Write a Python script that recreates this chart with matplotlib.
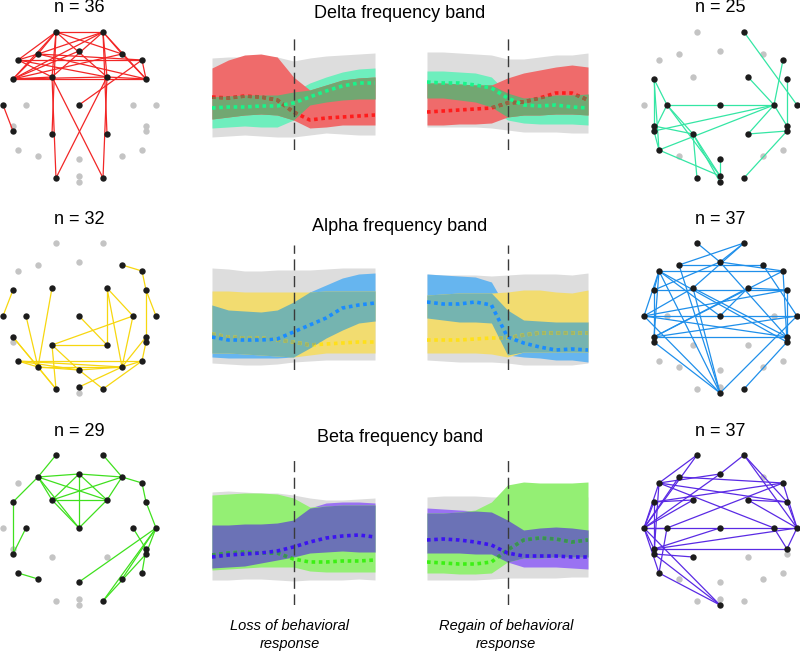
import numpy as np
import matplotlib
matplotlib.use("Agg")
import matplotlib.pyplot as plt
from matplotlib.path import Path

plt.rcParams['font.family'] = ['Liberation Sans', 'DejaVu Sans']

W, H = 800, 654

# electrode layout (x right, y up), head radius ~77
electrodes = {
    'Fp1': (-23, 73), 'Fp2': (24, 73),
    'AF3': (-41, 51), 'Fz': (0, 54), 'AF4': (43, 51),
    'F7': (-61, 45), 'F8': (63, 45),
    'FC5': (-66, 26), 'F3': (-27, 28), 'F4': (28, 28), 'FC6': (67, 26),
    'T7': (-76, 0), 'C3': (-53, 0), 'Cz': (0, 0), 'C4': (54, 0), 'T8': (77, 0),
    'CP5': (-66, -21), 'TP7': (-66, -26), 'P3': (-27, -29), 'P4': (28, -29),
    'CP6': (67, -21), 'TP8': (67, -26),
    'P7': (-61, -45), 'PO3': (-41, -51), 'Pz': (0, -54), 'PO4': (43, -51), 'P8': (63, -45),
    'O1': (-23, -73), 'Oz': (0, -71), 'O2': (24, -73), 'Iz': (0, -77),
}

# connections per network
delta_red_edges = ("Fp1-Fp2 Fp1-AF3 Fp1-F7 Fp1-FC5 Fp1-F3 Fp1-F4 Fp1-AF4 Fp1-P3 Fp2-AF3 "
                   "Fp2-FC5 Fp2-F3 Fp2-F4 Fp2-AF4 Fp2-FC6 Fp2-P4 AF3-F7 AF3-FC5 AF3-F8 "
                   "AF3-FC6 F7-F3 F7-F4 F7-F8 FC5-F3 FC5-F4 FC5-FC6 FC5-AF4 F3-O1 F3-O2 "
                   "F4-O1 F4-O2 F4-FC6 AF4-FC6 F8-FC6 F8-Cz Fz-FC5 T7-TP7").split()
delta_green_edges = ("Fp2-T8 F4-C4 F8-C4 FC6-TP8 C3-Cz Cz-C4 FC5-CP5 FC5-C3 FC5-P7 C3-TP7 "
                     "C3-P3 C3-Oz CP5-P3 TP7-C4 P7-C4 P7-Oz P3-O1 P3-Oz P3-Iz Pz-Oz C4-P4 "
                     "C4-CP6 P4-TP8 TP8-O2 P7-TP7").split()
alpha_yellow_edges = ("AF4-F8 F8-FC6 FC6-T8 FC6-TP8 FC5-T7 F3-PO3 C3-PO3 F4-P4 F4-C4 F4-PO4 "
                      "Cz-P4 P3-P4 P3-C4 P3-O1 P3-Pz CP5-PO3 CP5-O1 P7-PO3 P7-Pz P7-PO4 P7-P8 "
                      "PO3-Pz PO3-O1 PO3-PO4 Pz-PO4 Pz-O2 Oz-PO4 PO4-P8 PO4-CP6 P8-TP8 C4-PO4 "
                      "O2-P8").split()
alpha_blue_edges = ("Fp1-Fz Fp2-Fz Fp2-AF3 Fp2-F3 F7-F8 AF3-AF4 F7-FC5 F7-T7 F7-CP5 F7-TP8 "
                    "F7-Iz F7-Cz FC5-FC6 FC5-Fz FC5-TP7 F3-Iz F3-CP6 Fz-CP6 Fz-F8 F4-FC6 F4-Cz "
                    "AF4-T8 F8-TP8 FC6-T7 T7-T8 T7-CP6 T7-Iz T8-CP5 T8-Iz CP5-CP6 TP7-Iz CP5-F4 "
                    "TP8-O2 AF3-Iz F8-CP5 FC6-TP8 T7-F3").split()
beta_green_edges = ("Fp1-AF3 Fp2-AF4 AF3-Fz Fz-AF4 AF3-F3 AF3-F4 AF3-Cz AF3-FC5 Fz-F3 Fz-F4 "
                    "Fz-Cz F3-F4 F3-Cz F4-Cz AF4-F3 AF4-F4 AF4-F8 F8-FC6 FC5-TP7 C3-TP7 P7-PO3 "
                    "FC6-T8 T8-Pz T8-PO4 T8-O2 T8-TP8 C4-CP6 CP6-P8 TP8-O2").split()
beta_purple_edges = ("Fp1-F7 Fp1-T7 Fp2-Fz Fp2-T8 Fp2-FC6 Fz-F7 Fz-T7 AF3-T7 F7-FC6 F7-C4 "
                     "F7-T7 F7-TP7 FC5-F3 FC5-T7 FC5-F8 F3-T7 F4-FC6 F4-T8 F8-T8 F8-C3 FC6-T8 "
                     "T7-T8 T7-CP5 T7-P7 T7-Iz T7-C3 C3-P7 Cz-CP5 CP5-T8 CP5-CP6 TP7-P3 TP7-Iz "
                     "T8-CP6 C4-CP6 FC5-CP5 P7-Iz AF3-F8").split()

n_left = [36, 32, 29]
n_right = [25, 37, 37]

# time course bands (11 samples, response change at the middle)
t = np.linspace(0, 1, 11)

delta_loss_gray_hi = [92, 93, 93, 94, 93, 89, 92, 94, 95, 96, 97]
delta_loss_gray_lo = [13, 14, 15, 14, 13, 13, 15, 17, 16, 15, 15]
delta_loss_red_hi = [82, 90, 95, 96, 93, 73, 60, 65, 70, 72, 73]
delta_loss_red_lo = [31, 33, 35, 36, 35, 30, 22, 23, 25, 25, 25]
delta_loss_red_mean = [53, 52, 54, 53, 50, 38, 30, 32, 33, 34, 35]
delta_loss_green_hi = [53, 54, 55, 55, 55, 58, 67, 73, 78, 81, 82]
delta_loss_green_lo = [22, 23, 24, 23, 23, 30, 45, 48, 50, 51, 51]
delta_loss_green_mean = [42, 43, 43, 44, 44, 47, 53, 59, 64, 67, 67]

delta_regain_gray_hi = [98, 98, 97, 96, 95, 91, 91, 93, 95, 95, 97]
delta_regain_gray_lo = [23, 23, 23, 23, 22, 20, 18, 18, 18, 17, 17]
delta_regain_red_hi = [67, 67, 66, 65, 65, 72, 77, 80, 83, 85, 83]
delta_regain_red_lo = [25, 25, 26, 26, 27, 33, 35, 35, 36, 36, 35]
delta_regain_red_mean = [38, 39, 40, 41, 42, 47, 48, 52, 57, 57, 50]
delta_regain_green_hi = [79, 79, 78, 77, 73, 57, 52, 53, 55, 55, 56]
delta_regain_green_lo = [52, 52, 50, 48, 43, 30, 27, 26, 26, 26, 25]
delta_regain_green_mean = [68, 67, 67, 65, 62, 52, 45, 44, 45, 43, 42]

alpha_loss_gray_hi = [102, 101, 99, 99, 100, 100, 100, 101, 102, 102, 102]
alpha_loss_gray_lo = [7, 6, 5, 5, 6, 8, 9, 10, 10, 10, 10]
alpha_loss_yellow_hi = [79, 79, 78, 78, 78, 78, 78, 79, 79, 79, 79]
alpha_loss_yellow_lo = [17, 17, 16, 15, 14, 13, 15, 17, 17, 17, 17]
alpha_loss_yellow_mean = [36, 33, 32, 32, 30, 28, 25, 26, 27, 28, 28]
alpha_loss_blue_hi = [65, 60, 59, 58, 60, 68, 78, 85, 92, 96, 97]
alpha_loss_blue_lo = [13, 12, 12, 12, 12, 13, 22, 32, 40, 47, 49]
alpha_loss_blue_mean = [33, 30, 30, 30, 31, 38, 45, 52, 62, 65, 67]

alpha_regain_gray_hi = [96, 95, 95, 95, 94, 95, 96, 96, 96, 95, 97]
alpha_regain_gray_lo = [10, 9, 8, 8, 8, 7, 5, 5, 5, 5, 7]
alpha_regain_yellow_hi = [75, 76, 77, 77, 77, 78, 80, 80, 78, 77, 80]
alpha_regain_yellow_lo = [17, 17, 17, 17, 16, 13, 18, 18, 18, 18, 18]
alpha_regain_yellow_mean = [30, 30, 30, 31, 32, 32, 35, 37, 37, 37, 37]
alpha_regain_blue_hi = [96, 95, 94, 93, 88, 60, 50, 49, 48, 48, 48]
alpha_regain_blue_lo = [52, 50, 48, 48, 47, 15, 13, 12, 10, 10, 8]
alpha_regain_blue_mean = [68, 66, 66, 68, 65, 33, 27, 23, 20, 21, 20]

beta_loss_gray_hi = [113, 114, 113, 112, 112, 110, 107, 105, 105, 106, 107]
beta_loss_gray_lo = [25, 25, 26, 26, 25, 24, 25, 25, 25, 26, 25]
beta_loss_green_hi = [110, 111, 112, 112, 111, 107, 98, 99, 100, 100, 100]
beta_loss_green_lo = [35, 36, 37, 38, 38, 38, 34, 33, 33, 33, 33]
beta_loss_green_mean = [50, 52, 53, 52, 52, 46, 43, 43, 44, 44, 45]
beta_loss_purple_hi = [80, 80, 81, 81, 82, 85, 97, 102, 103, 103, 102]
beta_loss_purple_lo = [37, 38, 39, 42, 45, 48, 52, 53, 54, 53, 53]
beta_loss_purple_mean = [48, 50, 51, 52, 54, 58, 63, 67, 69, 70, 68]

beta_regain_gray_hi = [108, 109, 109, 109, 108, 108, 108, 108, 108, 108, 108]
beta_regain_gray_lo = [25, 25, 25, 25, 26, 27, 27, 27, 27, 28, 28]
beta_regain_green_hi = [92, 92, 93, 95, 103, 120, 123, 122, 122, 122, 123]
beta_regain_green_lo = [32, 32, 31, 31, 32, 43, 47, 47, 48, 48, 48]
beta_regain_green_mean = [43, 42, 41, 41, 43, 55, 65, 67, 66, 63, 65]
beta_regain_purple_hi = [97, 96, 95, 94, 93, 85, 75, 77, 78, 77, 75]
beta_regain_purple_lo = [52, 52, 52, 51, 51, 43, 38, 38, 38, 37, 36]
beta_regain_purple_mean = [65, 66, 65, 63, 60, 52, 49, 49, 49, 48, 48]


fig = plt.figure(figsize=(8, 6.54), dpi=100)


def px_axes(x0, y0, w, h):
    return fig.add_axes([x0 / W, 1 - (y0 + h) / H, w / W, h / H])


def draw_network(cx, cy, edges, color, n):
    ax = px_axes(cx - 90, cy - 90, 180, 180)
    ax.set_xlim(-90, 90)
    ax.set_ylim(-90, 90)
    ax.axis('off')
    pairs = [e.split('-') for e in edges]
    active = {name for p in pairs for name in p}
    for name, (x, y) in electrodes.items():
        if name not in active:
            ax.plot(x, y, 'o', color='#c4c4c4', ms=4.6, mew=0, zorder=1, clip_on=False)
    for a, b in pairs:
        xa, ya = electrodes[a]
        xb, yb = electrodes[b]
        ax.plot([xa, xb], [ya, yb], color=color, lw=0.9, zorder=2, clip_on=False)
    for name in active:
        x, y = electrodes[name]
        ax.plot(x, y, 'o', color='#1c1c1c', ms=4.6, mew=0, zorder=3, clip_on=False)
    fig.text(cx / W, 1 - (cy - 97) / H, f"n = {n}", ha='center', va='center', fontsize=13)


def draw_band(x0, y0, w, h, gray, band_a, band_b, cols):
    # cols: band A, band B, overlap, mean A, mean A under overlap, mean B
    ax = px_axes(x0, y0, w, h)
    ax.set_xlim(0, 1)
    ax.set_ylim(0, h)
    ax.axis('off')
    a_hi, a_lo, a_mean = (np.array(v, float) for v in band_a)
    b_hi, b_lo, b_mean = (np.array(v, float) for v in band_b)
    ax.fill_between(t, gray[1], gray[0], color='#dddddd', lw=0)
    ax.fill_between(t, b_lo, b_hi, color=cols[1], lw=0)
    ax.fill_between(t, a_lo, a_hi, color=cols[0], lw=0)
    lo = np.maximum(a_lo, b_lo)
    hi = np.minimum(a_hi, b_hi)
    ov = ax.fill_between(t, lo, hi, where=hi > lo, interpolate=True, color=cols[2], lw=0)
    ax.plot(t, a_mean, color=cols[3], lw=2.6, ls=(0, (1, 1)))
    paths = ov.get_paths()
    if paths:
        hidden, = ax.plot(t, a_mean, color=cols[4], lw=2.6, ls=(0, (1, 1)))
        hidden.set_clip_path(Path.make_compound_path(*paths), ax.transData)
    ax.plot(t, b_mean, color=cols[5], lw=2.6, ls=(0, (1, 1)))
    ax.axvline(0.5, color='#3a3a3a', lw=1.0, ls=(0, (8, 4)))


# rows: network centers, band panel extents
draw_network(79, 105, delta_red_edges, '#f22626', n_left[0])
draw_network(720, 105, delta_green_edges, '#34e6a4', n_right[0])
draw_network(79, 316, alpha_yellow_edges, '#f7d70f', n_left[1])
draw_network(720, 316, alpha_blue_edges, '#1f8fea', n_right[1])
draw_network(79, 528, beta_green_edges, '#3fe01e', n_left[2])
draw_network(720, 528, beta_purple_edges, '#5a2ae4', n_right[2])

delta_cols = ['#ef6b6b', '#6eeebd', '#72a772', '#ff1c1c', '#8c6a44', '#19f58a']
alpha_cols = ['#f2dc70', '#66b5ef', '#75b4b0', '#ffe01a', '#9cb46c', '#1a8cff']
beta_cols = ['#94ef74', '#9a72f2', '#6b72b6', '#3cf014', '#3d8a5c', '#3c14f0']

draw_band(212, 34, 163, 116, (delta_loss_gray_hi, delta_loss_gray_lo),
          (delta_loss_red_hi, delta_loss_red_lo, delta_loss_red_mean),
          (delta_loss_green_hi, delta_loss_green_lo, delta_loss_green_mean), delta_cols)
draw_band(427, 34, 161, 116, (delta_regain_gray_hi, delta_regain_gray_lo),
          (delta_regain_red_hi, delta_regain_red_lo, delta_regain_red_mean),
          (delta_regain_green_hi, delta_regain_green_lo, delta_regain_green_mean), delta_cols)
draw_band(212, 245, 163, 125, (alpha_loss_gray_hi, alpha_loss_gray_lo),
          (alpha_loss_yellow_hi, alpha_loss_yellow_lo, alpha_loss_yellow_mean),
          (alpha_loss_blue_hi, alpha_loss_blue_lo, alpha_loss_blue_mean), alpha_cols)
draw_band(427, 245, 161, 125, (alpha_regain_gray_hi, alpha_regain_gray_lo),
          (alpha_regain_yellow_hi, alpha_regain_yellow_lo, alpha_regain_yellow_mean),
          (alpha_regain_blue_hi, alpha_regain_blue_lo, alpha_regain_blue_mean), alpha_cols)
draw_band(212, 457, 163, 148, (beta_loss_gray_hi, beta_loss_gray_lo),
          (beta_loss_green_hi, beta_loss_green_lo, beta_loss_green_mean),
          (beta_loss_purple_hi, beta_loss_purple_lo, beta_loss_purple_mean), beta_cols)
draw_band(427, 457, 161, 148, (beta_regain_gray_hi, beta_regain_gray_lo),
          (beta_regain_green_hi, beta_regain_green_lo, beta_regain_green_mean),
          (beta_regain_purple_hi, beta_regain_purple_lo, beta_regain_purple_mean), beta_cols)

for title, y in [("Delta frequency band", 13), ("Alpha frequency band", 227),
                 ("Beta frequency band", 437)]:
    fig.text(0.5, 1 - y / H, title, ha='center', va='center', fontsize=13)

fig.text(290 / W, 1 - 635 / H, "Loss of behavioral\nresponse", ha='center', va='center',
         fontsize=10.5, style='italic', linespacing=1.45)
fig.text(506 / W, 1 - 635 / H, "Regain of behavioral\nresponse", ha='center', va='center',
         fontsize=10.5, style='italic', linespacing=1.45)

fig.savefig("out.png", dpi=100)
